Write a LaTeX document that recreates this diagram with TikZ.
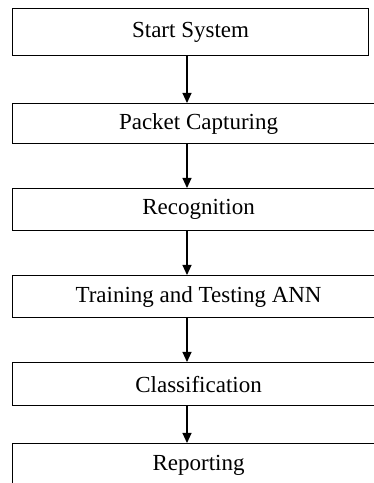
\documentclass[tikz,border=0pt]{standalone}
\usepackage{fontspec}
\setmainfont{Liberation Serif}
\usetikzlibrary{arrows.meta}
\begin{document}
\begin{tikzpicture}[x=1pt,y=1pt,
  stepbox/.style={draw=black, line width=1.1pt, rectangle, anchor=north west,
    minimum height=#1, inner sep=0pt, font=\fontsize{23}{27}\selectfont},
  wide/.style={minimum width=372pt},
  arr/.style={line width=1.1pt, -{Triangle[width=9pt,length=10pt]}}]
\useasboundingbox (0,0) rectangle (374,483);
\clip (0,0) rectangle (374,483);
\fill[white] (0,0) rectangle (374,483);
\node[stepbox=47pt, minimum width=356pt] (b1) at (12,475) {Start System};
\node[stepbox=40pt, wide] (b2) at (12,380) {Packet Capturing};
\node[stepbox=42pt, wide] (b3) at (12,295) {Recognition};
\node[stepbox=42pt, wide] (b4) at (12,208) {Training and Testing ANN};
\node[stepbox=43pt, wide] (b5) at (12,121) {Classification};
\node[stepbox=43pt, wide] (b6) at (12,40) {Reporting};
\coordinate (ax) at (187,0);
\draw[arr] (b1.south -| ax) -- (b2.north -| ax);
\draw[arr] (b2.south -| ax) -- (b3.north -| ax);
\draw[arr] (b3.south -| ax) -- (b4.north -| ax);
\draw[arr] (b4.south -| ax) -- (b5.north -| ax);
\draw[arr] (b5.south -| ax) -- (b6.north -| ax);
\end{tikzpicture}
\end{document}
